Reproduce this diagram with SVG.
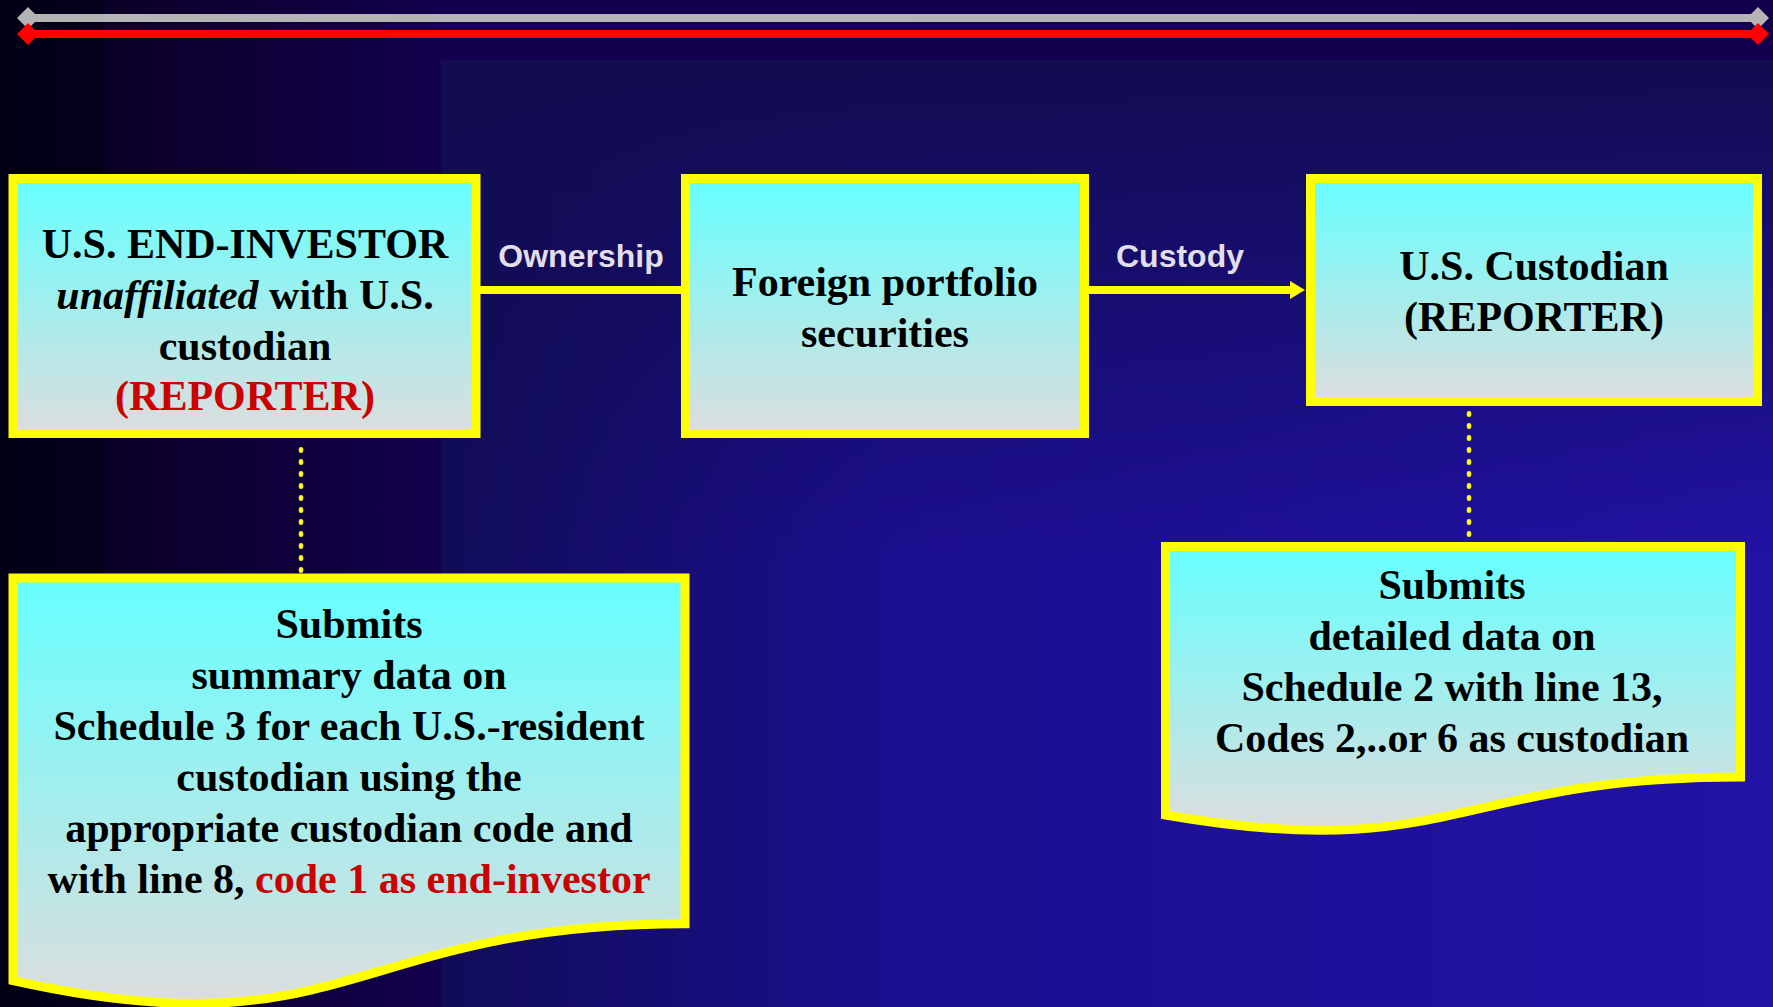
<svg xmlns="http://www.w3.org/2000/svg" width="1773" height="1007" viewBox="0 0 1773 1007">
<defs>
<linearGradient id="bgL" x1="0" y1="0" x2="1773" y2="0" gradientUnits="userSpaceOnUse">
<stop offset="0" stop-color="#010016"/>
<stop offset="0.0586" stop-color="#04001c"/>
<stop offset="0.0587" stop-color="#0b0026"/>
<stop offset="0.249" stop-color="#13004e"/>
<stop offset="1" stop-color="#12004e"/>
</linearGradient>
<linearGradient id="bgR" x1="441" y1="0" x2="1773" y2="0" gradientUnits="userSpaceOnUse">
<stop offset="0" stop-color="#110c58"/>
<stop offset="0.33" stop-color="#1b0e8e"/>
<stop offset="1" stop-color="#2212a6"/>
</linearGradient>
<linearGradient id="bgV" x1="0" y1="60" x2="0" y2="560" gradientUnits="userSpaceOnUse">
<stop offset="0" stop-color="#120c50" stop-opacity="1"/>
<stop offset="1" stop-color="#120c50" stop-opacity="0"/>
</linearGradient>
<linearGradient id="fill" x1="0" y1="0" x2="0" y2="1">
<stop offset="0" stop-color="#66ffff"/>
<stop offset="1" stop-color="#dddddd"/>
</linearGradient>
<marker id="arrow" markerUnits="userSpaceOnUse" markerWidth="18" markerHeight="18" refX="2" refY="9" orient="auto">
<path d="M0,0 L15,9 L0,18 Z" fill="#ffff00"/>
</marker>
<marker id="dg" markerUnits="userSpaceOnUse" markerWidth="24" markerHeight="24" refX="12" refY="12" orient="auto">
<path d="M1,12 L12,1 L23,12 L12,23 Z" fill="#b4b4b4"/>
</marker>
<marker id="dr" markerUnits="userSpaceOnUse" markerWidth="24" markerHeight="24" refX="12" refY="12" orient="auto">
<path d="M1,12 L12,1 L23,12 L12,23 Z" fill="#ff0000"/>
</marker>
</defs>
<style>
.box{fill:url(#fill);stroke:#ffff00;stroke-width:9;}
.t{font-family:"Liberation Serif","Times New Roman",serif;font-weight:bold;font-size:42px;fill:#000;text-anchor:middle;}
.red{fill:#cc0000;}
.lbl{font-family:"Liberation Sans",Arial,sans-serif;font-weight:bold;font-size:32px;fill:#e2deea;text-anchor:middle;}
.conn{stroke:#ffff00;stroke-width:8;fill:none;}
.dot{stroke:#ffff00;stroke-width:4.5;stroke-linecap:round;stroke-dasharray:1.5 10.5;fill:none;}
</style>
<g id="background">
<rect x="0" y="0" width="1773" height="1007" fill="url(#bgL)"/>
<rect x="441" y="60" width="1332" height="947" fill="url(#bgR)"/>
<rect x="441" y="60" width="1332" height="500" fill="url(#bgV)"/>
</g>
<g id="title-bar">
<line x1="28" y1="18" x2="1758" y2="18" stroke="#b4b4b4" stroke-width="8" marker-start="url(#dg)" marker-end="url(#dg)"/>
<line x1="28" y1="34" x2="1758" y2="34" stroke="#ff0000" stroke-width="8" marker-start="url(#dr)" marker-end="url(#dr)"/>
</g>
<g id="connectors">
<line class="conn" x1="480" y1="290" x2="682" y2="290"/>
<line class="conn" x1="1088" y1="290" x2="1292" y2="290" marker-end="url(#arrow)"/>
<path class="dot" d="M301,449.25 V572"/>
<path class="dot" d="M1469,413.25 V536"/>
<text class="lbl" x="581" y="267">Ownership</text>
<text class="lbl" x="1180" y="267">Custody</text>
</g>
<g id="end-investor">
<rect class="box" x="13" y="178.5" width="463" height="255"/>
<text class="t" x="245" y="258">U.S. END-INVESTOR</text>
<text class="t" x="245" y="309"><tspan font-style="italic">unaffiliated</tspan> with U.S.</text>
<text class="t" x="245" y="360">custodian</text>
<text class="t red" x="245" y="410">(REPORTER)</text>
</g>
<g id="foreign-securities">
<rect class="box" x="685.5" y="178.5" width="399" height="255"/>
<text class="t" x="885" y="296">Foreign portfolio</text>
<text class="t" x="885" y="347">securities</text>
</g>
<g id="us-custodian">
<rect class="box" x="1310.5" y="178.5" width="447" height="223"/>
<text class="t" x="1534" y="280">U.S. Custodian</text>
<text class="t" x="1534" y="331">(REPORTER)</text>
</g>
<g id="end-investor-submits">
<path class="box" d="M13,578 H685 V923.7 C349,923.7 349,1055.4 13,980.6 Z"/>
<text class="t" x="349" y="638">Submits</text>
<text class="t" x="349" y="689">summary data on</text>
<text class="t" x="349" y="740">Schedule 3 for each U.S.-resident</text>
<text class="t" x="349" y="791">custodian using the</text>
<text class="t" x="349" y="842">appropriate custodian code and</text>
<text class="t" x="349" y="893">with line 8, <tspan class="red">code 1 as end-investor</tspan></text>
</g>
<g id="custodian-submits">
<path class="box" d="M1165.5,546.5 H1740.5 V777 C1453,777 1453,864.8 1165.5,815 Z"/>
<text class="t" x="1452" y="599">Submits</text>
<text class="t" x="1452" y="650">detailed data on</text>
<text class="t" x="1452" y="701">Schedule 2 with line 13,</text>
<text class="t" x="1452" y="752">Codes 2,..or 6 as custodian</text>
</g>
</svg>
